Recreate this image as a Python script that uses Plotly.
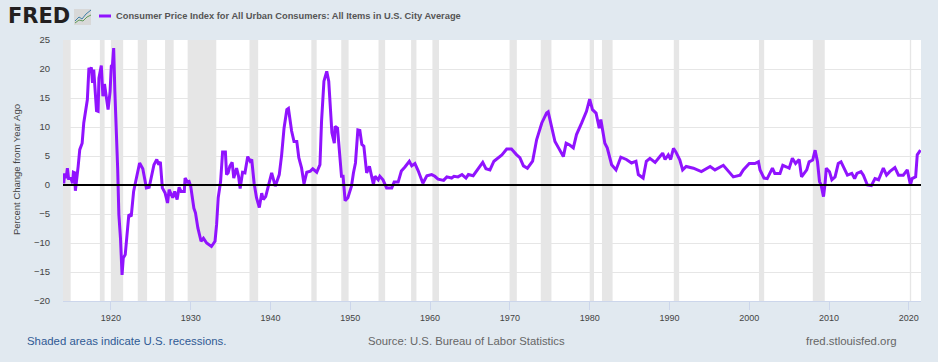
import plotly.graph_objects as go

years = [1914.0,1914.1,1914.2,1914.4,1914.55,1914.7,1915.0,1915.2,1915.3,1915.45,1915.55,1915.7,1915.9,1916.1,1916.4,1916.6,1916.85,1917.05,1917.25,1917.4,1917.55,1917.7,1917.85,1918.0,1918.2,1918.4,1918.5,1918.8,1919.0,1919.2,1919.5,1919.65,1919.9,1920.05,1920.2,1920.35,1920.5,1920.65,1920.85,1921.0,1921.2,1921.4,1921.55,1921.8,1922.0,1922.25,1922.55,1922.85,1923.2,1923.6,1924.0,1924.45,1924.8,1925.1,1925.4,1925.75,1926.0,1926.2,1926.45,1926.8,1927.1,1927.3,1927.75,1928.0,1928.3,1928.55,1928.8,1929.2,1929.3,1929.6,1929.8,1930.0,1930.4,1930.6,1930.9,1931.3,1931.6,1932.0,1932.6,1933.05,1933.25,1933.45,1933.75,1934.0,1934.35,1934.5,1934.7,1934.9,1935.2,1935.4,1935.75,1936.0,1936.2,1936.5,1936.8,1937.15,1937.45,1937.65,1937.95,1938.25,1938.6,1938.9,1939.1,1939.4,1939.75,1940.15,1940.6,1941.1,1941.4,1941.7,1942.05,1942.25,1942.65,1942.95,1943.3,1943.55,1943.9,1944.2,1944.55,1945.0,1945.3,1945.8,1946.2,1946.4,1946.7,1947.05,1947.3,1947.55,1947.7,1948.0,1948.1,1948.4,1948.7,1948.9,1949.1,1949.35,1949.7,1950.15,1950.4,1950.65,1950.95,1951.2,1951.45,1951.7,1952.05,1952.4,1952.9,1953.1,1953.5,1953.7,1954.1,1954.55,1955.2,1955.5,1956.0,1956.4,1956.85,1957.4,1957.7,1958.1,1958.5,1959.1,1959.6,1960.2,1960.6,1961.0,1961.7,1962.1,1962.7,1963.0,1963.5,1964.0,1964.5,1964.8,1965.4,1966.0,1966.6,1967.0,1967.5,1968.0,1968.55,1969.0,1969.6,1970.2,1970.85,1971.25,1971.7,1972.2,1972.85,1973.35,1974.0,1974.6,1974.8,1975.25,1975.65,1976.1,1976.7,1977.05,1977.5,1977.95,1978.35,1979.0,1979.6,1980.0,1980.35,1980.8,1981.2,1981.4,1981.9,1982.2,1982.75,1983.3,1983.9,1984.6,1985.25,1985.8,1986.1,1986.7,1987.1,1987.55,1988.2,1988.8,1989.15,1989.45,1989.85,1990.15,1990.5,1990.8,1991.3,1991.65,1992.1,1993.0,1994.0,1995.1,1995.7,1996.75,1997.4,1998.0,1998.85,1999.25,2000.0,2000.7,2001.15,2001.35,2001.85,2002.25,2002.9,2003.2,2003.85,2004.2,2004.7,2005.0,2005.4,2005.8,2006.25,2006.55,2007.2,2007.5,2007.95,2008.25,2008.55,2008.8,2009.0,2009.3,2009.5,2009.65,2010.05,2010.35,2010.75,2011.15,2011.5,2011.9,2012.3,2012.85,2013.2,2013.5,2014.0,2014.3,2014.8,2015.3,2015.75,2016.2,2016.8,2017.2,2017.6,2018.25,2018.7,2019.3,2019.8,2020.2,2020.4,2020.85,2021.05,2021.45]
values = [1.8,0.3,2.0,1.2,2.9,1.1,1.1,0.3,2.2,2.1,-1.0,0.6,3.2,6.1,7.2,10.7,12.8,14.7,20.2,19.6,20.3,17.6,19.9,17.3,12.8,12.7,18.4,20.6,15.3,17.4,14.1,13.0,16.1,20.5,20.7,23.6,16.1,11.5,2.9,-5.1,-9.1,-15.5,-12.6,-12.0,-8.6,-5.1,-5.4,-1.1,1.2,3.8,2.8,-0.5,-0.4,1.5,3.5,4.4,3.5,4.0,-0.5,-1.4,-3.1,-0.8,-2.2,-1.1,-2.5,-0.4,-1.1,-1.1,1.2,0.5,0.6,-0.2,-4.0,-4.8,-7.4,-9.7,-9.2,-10.0,-10.6,-9.7,-6.8,-2.2,0.6,5.7,5.7,1.8,2.1,3.2,3.9,1.2,2.9,1.5,-0.6,2.2,2.1,4.9,4.1,4.4,0.3,-2.2,-3.9,-1.4,-2.5,-2.0,0.1,2.1,-0.2,1.8,5.2,9.8,13.0,13.2,9.3,7.5,7.5,4.7,2.9,0.2,2.2,2.4,2.8,2.2,3.5,11.0,17.9,19.6,17.9,12.4,9.0,7.2,10.1,9.8,4.7,1.5,1.5,-2.7,-2.2,-0.2,2.1,3.8,9.5,9.4,7.0,6.7,2.1,3.2,0.1,1.5,0.9,1.5,0.9,-0.5,-0.5,0.5,0.5,2.4,3.1,4.1,3.3,3.7,2.5,0.3,1.6,1.8,1.5,1.0,0.8,1.4,1.2,1.5,1.4,1.8,1.2,1.8,1.6,2.8,3.9,2.8,2.6,4.1,4.8,5.2,6.2,6.2,5.2,4.7,3.3,2.9,4.1,7.8,10.7,12.4,12.6,9.8,7.5,6.4,4.9,7.2,6.9,6.4,8.7,10.7,12.7,14.8,13.0,12.4,9.8,11.3,7.2,6.4,3.5,2.6,4.8,4.4,3.8,4.1,1.8,1.2,4.1,4.6,3.9,4.9,5.5,4.4,5.2,4.4,6.3,5.7,4.3,2.6,3.2,2.9,2.3,3.2,2.6,3.4,2.3,1.4,1.7,2.6,3.7,3.7,4.0,2.6,1.2,1.1,2.9,2.0,2.0,3.4,3.1,2.9,4.6,3.7,4.4,1.4,2.6,4.0,4.3,6.0,4.0,0.6,0.0,-2.0,0.3,2.9,2.3,0.9,1.4,3.7,4.0,2.9,1.7,2.0,1.1,2.0,2.3,1.7,0.0,-0.1,1.1,0.9,2.9,1.7,2.3,3.0,1.7,1.7,2.6,0.0,1.1,1.4,5.2,6.0]

recession_starts = [1913.0,1918.62,1920.0,1923.37,1926.79,1929.62,1937.37,1945.12,1948.87,1953.54,1957.62,1960.29,1969.96,1973.87,1980.0,1981.54,1990.54,2001.21,2007.96,2020.12]
recession_ends   = [1914.96,1919.21,1921.54,1924.54,1927.87,1933.21,1938.46,1945.79,1949.79,1954.37,1958.29,1961.12,1970.87,1975.21,1980.54,1982.87,1991.21,2001.87,2009.46,2020.29]

y_ticks = list(range(-20, 30, 5))
x_tick_years = list(range(1920, 2030, 10))

series_name = "Consumer Price Index for All Urban Consumers: All Items in U.S. City Average"
y_title = "Percent Change from Year Ago"
LINE = "#9013fe"
BG = "#e1e9f0"
SANS = "Liberation Sans, Arial, sans-serif"
W, H = 938, 362
L, R, T, B = 63, 921, 40, 301

fig = go.Figure()
fig.add_trace(go.Scatter(x=years, y=values, mode="lines",
                         line=dict(color=LINE, width=3), hoverinfo="x+y", showlegend=False))

for s, e in zip(recession_starts, recession_ends):
    fig.add_shape(type="rect", xref="x", yref="paper", x0=s, x1=e, y0=0, y1=1,
                  fillcolor="#e6e6e6", line_width=0, layer="below")
fig.add_shape(type="line", xref="paper", yref="y", x0=0, x1=1, y0=0, y1=0,
              line=dict(color="#000000", width=2), layer="above")

def px(x): return (x - L) / (R - L)
def py(y): return (B - y) / (B - T)

# legend key
fig.add_shape(type="line", xref="paper", yref="paper", x0=px(99), x1=px(111), y0=py(16), y1=py(16),
              line=dict(color=LINE, width=3))
# logo icon
fig.add_shape(type="rect", xref="paper", yref="paper", x0=px(74), x1=px(91), y0=py(25), y1=py(9),
              fillcolor="#d8d8d8", line_width=0)
fig.add_shape(type="path", xref="paper", yref="paper",
              path=f"M {px(75)} {py(21)} L {px(79)} {py(17)} L {px(82)} {py(19)} L {px(86)} {py(14)} L {px(91)} {py(10)}",
              line=dict(color="#3f7fa8", width=1))
fig.add_shape(type="path", xref="paper", yref="paper",
              path=f"M {px(75)} {py(23)} L {px(79)} {py(20)} L {px(83)} {py(21)} L {px(87)} {py(17)} L {px(91)} {py(15)}",
              line=dict(color="#5f9a5a", width=1))

def note(text, x, y, size, color, anchor="left", font=SANS, **kw):
    fig.add_annotation(text=text, xref="paper", yref="paper", x=px(x), y=py(y), showarrow=False,
                       xanchor=anchor, yanchor="middle", font=dict(size=size, color=color, family=font), **kw)

note("<b>FRED</b>", 6, 16, 21, "#231f20", font="DejaVu Sans, sans-serif")
note(f"<b>{series_name}</b>", 114, 16, 9.3, "#555555")
note(y_title, 16, 170, 9.5, "#444444", anchor="center", textangle=-90)
note("Shaded areas indicate U.S. recessions.", 25, 341, 11.4, "#2f5a94")
note("Source: U.S. Bureau of Labor Statistics", 366, 341, 11.3, "#666666")
note("fred.stlouisfed.org", 899, 341, 11.4, "#666666", anchor="right")

fig.update_layout(
    width=W, height=H, autosize=False,
    margin=dict(l=L, r=W - R, t=T, b=H - B, pad=0),
    paper_bgcolor=BG, plot_bgcolor="#ffffff", showlegend=False,
    font=dict(family=SANS, size=9.5, color="#444444"),
)
fig.update_xaxes(range=[1914.0, 2021.52], tickvals=x_tick_years, showgrid=False, zeroline=False,
                 showline=True, linecolor="#ccd6eb", linewidth=1, ticks="outside", ticklen=8,
                 tickcolor="#ccd6eb", tickfont=dict(size=9, color="#444444"))
fig.update_yaxes(range=[-20, 25], tickvals=y_ticks, showgrid=True, gridcolor="#e6e6e6", gridwidth=1,
                 zeroline=False, ticks="", ticklabelstandoff=12, tickfont=dict(size=9.5, color="#444444"))

fig.write_html("out.html", config=dict(displayModeBar=False),
               post_script="document.body.style.margin='0';")
